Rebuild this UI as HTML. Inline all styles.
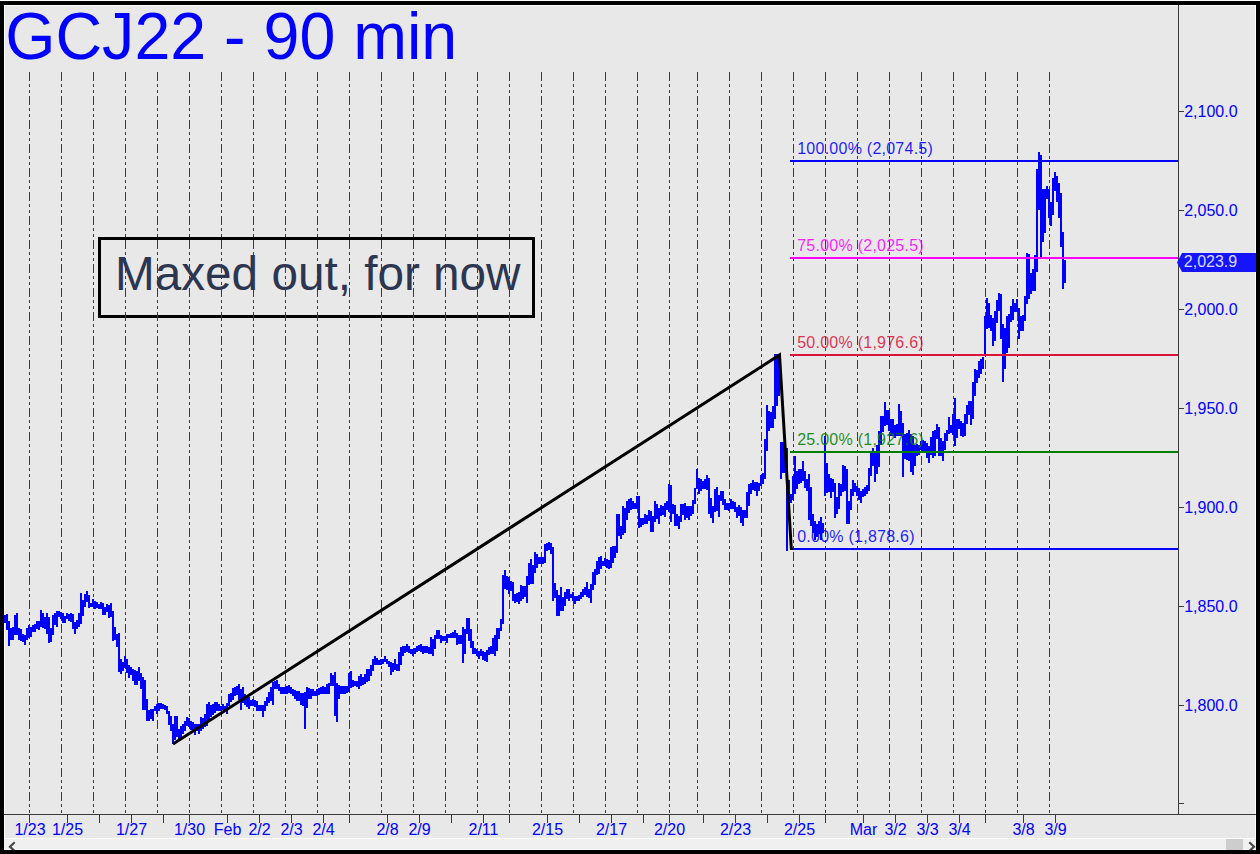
<!DOCTYPE html>
<html lang="en"><head><meta charset="utf-8"><title>GCJ22 - 90 min</title>
<style>
html,body{margin:0;padding:0;background:#e8e8e8;}
body{width:1260px;height:854px;overflow:hidden;font-family:"Liberation Sans", sans-serif;}
svg{display:block;position:absolute;left:0;top:0;}
text{font-family:"Liberation Sans", sans-serif;}
.ax{font-size:16px;fill:#0000ff;}
.fib{font-size:16px;letter-spacing:0.25px;}
</style></head><body>
<svg width="1260" height="854" viewBox="0 0 1260 854">
<rect x="0" y="0" width="1260" height="854" fill="#e8e8e8"/>
<g shape-rendering="crispEdges">
<rect x="4" y="5" width="1" height="845" fill="#ffffff" fill-opacity="0.9"/>
<rect x="1255" y="5" width="1" height="809" fill="#ffffff" fill-opacity="0.9"/>
<rect x="1255" y="815" width="1" height="35" fill="#ffffff" fill-opacity="0.9"/>
<rect x="4" y="5" width="1252" height="1" fill="#ffffff" fill-opacity="0.9"/>
</g>
<rect x="99.5" y="238.5" width="434" height="78" fill="none" stroke="#000" stroke-width="3" shape-rendering="crispEdges"/>
<text x="115.0" y="290" font-size="47.7" fill="#2c3650">Maxed out, for now</text>
<g stroke="#3a3a3a" stroke-width="1" stroke-dasharray="9 3 3 3 3 3" shape-rendering="crispEdges">
<line x1="29.5" y1="72" x2="29.5" y2="814"/>
<line x1="61.5" y1="72" x2="61.5" y2="814"/>
<line x1="93.5" y1="72" x2="93.5" y2="814"/>
<line x1="125.5" y1="72" x2="125.5" y2="814"/>
<line x1="157.5" y1="72" x2="157.5" y2="814"/>
<line x1="189.5" y1="72" x2="189.5" y2="814"/>
<line x1="221.5" y1="72" x2="221.5" y2="814"/>
<line x1="253.5" y1="72" x2="253.5" y2="814"/>
<line x1="285.5" y1="72" x2="285.5" y2="814"/>
<line x1="317.5" y1="72" x2="317.5" y2="814"/>
<line x1="349.5" y1="72" x2="349.5" y2="814"/>
<line x1="381.5" y1="72" x2="381.5" y2="814"/>
<line x1="413.5" y1="72" x2="413.5" y2="814"/>
<line x1="445.5" y1="72" x2="445.5" y2="814"/>
<line x1="477.5" y1="72" x2="477.5" y2="814"/>
<line x1="509.5" y1="72" x2="509.5" y2="814"/>
<line x1="541.5" y1="72" x2="541.5" y2="814"/>
<line x1="573.5" y1="72" x2="573.5" y2="814"/>
<line x1="605.5" y1="72" x2="605.5" y2="814"/>
<line x1="637.5" y1="72" x2="637.5" y2="814"/>
<line x1="669.5" y1="72" x2="669.5" y2="814"/>
<line x1="697.5" y1="72" x2="697.5" y2="814"/>
<line x1="729.5" y1="72" x2="729.5" y2="814"/>
<line x1="761.5" y1="72" x2="761.5" y2="814"/>
<line x1="793.5" y1="72" x2="793.5" y2="814"/>
<line x1="825.5" y1="72" x2="825.5" y2="814"/>
<line x1="857.5" y1="72" x2="857.5" y2="814"/>
<line x1="889.5" y1="72" x2="889.5" y2="814"/>
<line x1="921.5" y1="72" x2="921.5" y2="814"/>
<line x1="953.5" y1="72" x2="953.5" y2="814"/>
<line x1="985.5" y1="72" x2="985.5" y2="814"/>
<line x1="1017.5" y1="72" x2="1017.5" y2="814"/>
<line x1="1049.5" y1="72" x2="1049.5" y2="814"/>
</g>
<text transform="translate(5.3 59.3) scale(1 1.02)" font-size="64.55" fill="#0000ff">GCJ22 - 90 min</text>
<path fill="#0000ff" shape-rendering="crispEdges" d="M4 615v8h2v-8zM6 614v16h2v-16zM8 621v25h2v-25zM10 628v12h2v-12zM12 627v13h2v-13zM14 615v20h2v-20zM16 613v22h2v-22zM18 628v12h2v-12zM20 629v12h2v-12zM22 634v8h2v-8zM24 635v10h2v-10zM26 628v12h2v-12zM28 625v13h2v-13zM30 627v10h2v-10zM32 625v7h2v-7zM34 624v8h2v-8zM36 621v8h2v-8zM38 621v9h2v-9zM40 610v17h2v-17zM42 613v15h2v-15zM44 617v12h2v-12zM46 613v21h2v-21zM48 617v26h2v-26zM50 628v14h2v-14zM52 615v20h2v-20zM54 613v12h2v-12zM56 611v16h2v-16zM58 611v6h2v-6zM60 612v7h2v-7zM62 613v10h2v-10zM64 616v7h2v-7zM66 613v6h2v-6zM68 614v7h2v-7zM70 613v9h2v-9zM72 614v15h2v-15zM74 622v12h2v-12zM76 620v9h2v-9zM78 613v14h2v-14zM80 593v31h2v-31zM82 600v16h2v-16zM84 594v13h2v-13zM86 591v11h2v-11zM88 595v13h2v-13zM90 603v4h2v-4zM92 599v8h2v-8zM94 601v8h2v-8zM96 602v6h2v-6zM98 604v5h2v-5zM100 602v7h2v-7zM102 603v12h2v-12zM104 607v8h2v-8zM106 604v8h2v-8zM108 605v13h2v-13zM110 603v14h2v-14zM112 611v30h2v-30zM114 627v13h2v-13zM116 634v13h2v-13zM118 633v39h2v-39zM120 659v15h2v-15zM122 662v9h2v-9zM124 656v12h2v-12zM126 659v14h2v-14zM128 665v13h2v-13zM130 667v8h2v-8zM132 669v12h2v-12zM134 670v15h2v-15zM136 671v14h2v-14zM138 667v14h2v-14zM140 673v16h2v-16zM142 677v33h2v-33zM144 680v30h2v-30zM146 699v22h2v-22zM148 710v11h2v-11zM150 709v10h2v-10zM152 709v12h2v-12zM154 706v5h2v-5zM156 704v10h2v-10zM158 703v8h2v-8zM160 703v6h2v-6zM162 704v5h2v-5zM164 705v5h2v-5zM166 706v8h2v-8zM168 711v14h2v-14zM170 716v15h2v-15zM172 724v20h2v-20zM174 716v24h2v-24zM176 716v21h2v-21zM178 729v11h2v-11zM180 726v13h2v-13zM182 724v10h2v-10zM184 721v10h2v-10zM186 717v9h2v-9zM188 718v9h2v-9zM190 721v9h2v-9zM192 722v9h2v-9zM194 724v11h2v-11zM196 724v7h2v-7zM198 724v10h2v-10zM200 717v14h2v-14zM202 718v11h2v-11zM204 714v13h2v-13zM206 704v22h2v-22zM208 702v18h2v-18zM210 705v12h2v-12zM212 704v11h2v-11zM214 702v11h2v-11zM216 702v9h2v-9zM218 704v7h2v-7zM220 706v5h2v-5zM222 704v6h2v-6zM224 706v5h2v-5zM226 703v11h2v-11zM228 694v12h2v-12zM230 693v9h2v-9zM232 688v12h2v-12zM234 687v9h2v-9zM236 686v9h2v-9zM238 684v16h2v-16zM240 689v21h2v-21zM242 687v16h2v-16zM244 694v11h2v-11zM246 697v10h2v-10zM248 697v12h2v-12zM250 700v6h2v-6zM252 699v7h2v-7zM254 700v7h2v-7zM256 701v10h2v-10zM258 705v6h2v-6zM260 705v6h2v-6zM262 705v12h2v-12zM264 701v10h2v-10zM266 697v9h2v-9zM268 692v11h2v-11zM270 687v14h2v-14zM272 682v23h2v-23zM274 681v8h2v-8zM276 680v9h2v-9zM278 684v7h2v-7zM280 687v7h2v-7zM282 687v7h2v-7zM284 687v7h2v-7zM286 686v8h2v-8zM288 685v8h2v-8zM290 687v7h2v-7zM292 689v7h2v-7zM294 690v9h2v-9zM296 691v10h2v-10zM298 691v10h2v-10zM300 693v12h2v-12zM302 693v13h2v-13zM304 692v37h2v-37zM306 687v21h2v-21zM308 688v11h2v-11zM310 689v10h2v-10zM312 689v7h2v-7zM314 691v5h2v-5zM316 689v7h2v-7zM318 688v7h2v-7zM320 687v7h2v-7zM322 686v8h2v-8zM324 687v7h2v-7zM326 684v10h2v-10zM328 683v11h2v-11zM330 673v13h2v-13zM332 675v11h2v-11zM334 672v44h2v-44zM336 683v39h2v-39zM338 685v14h2v-14zM340 686v8h2v-8zM342 686v8h2v-8zM344 686v8h2v-8zM346 686v7h2v-7zM348 673v19h2v-19zM350 671v17h2v-17zM352 680v7h2v-7zM354 681v5h2v-5zM356 681v6h2v-6zM358 676v13h2v-13zM360 674v12h2v-12zM362 677v8h2v-8zM364 674v10h2v-10zM366 669v13h2v-13zM368 669v12h2v-12zM370 665v11h2v-11zM372 659v12h2v-12zM374 656v9h2v-9zM376 658v7h2v-7zM378 660v5h2v-5zM380 659v6h2v-6zM382 659v5h2v-5zM384 656v6h2v-6zM386 659v5h2v-5zM388 661v6h2v-6zM390 662v13h2v-13zM392 663v9h2v-9zM394 659v11h2v-11zM396 664v7h2v-7zM398 652v19h2v-19zM400 647v18h2v-18zM402 646v10h2v-10zM404 646v7h2v-7zM406 644v8h2v-8zM408 646v7h2v-7zM410 649v5h2v-5zM412 649v7h2v-7zM414 648v6h2v-6zM416 646v6h2v-6zM418 645v6h2v-6zM420 644v8h2v-8zM422 646v8h2v-8zM424 646v7h2v-7zM426 646v7h2v-7zM428 647v7h2v-7zM430 637v17h2v-17zM432 639v17h2v-17zM434 635v14h2v-14zM436 630v9h2v-9zM438 630v9h2v-9zM440 635v8h2v-8zM442 636v5h2v-5zM444 636v5h2v-5zM446 634v9h2v-9zM448 634v4h2v-4zM450 633v5h2v-5zM452 632v6h2v-6zM454 630v8h2v-8zM456 633v12h2v-12zM458 635v9h2v-9zM460 635v9h2v-9zM462 627v36h2v-36zM464 629v25h2v-25zM466 618v16h2v-16zM468 618v23h2v-23zM470 629v19h2v-19zM472 641v13h2v-13zM474 648v6h2v-6zM476 649v7h2v-7zM478 651v8h2v-8zM480 649v7h2v-7zM482 651v9h2v-9zM484 652v9h2v-9zM486 650v12h2v-12zM488 647v8h2v-8zM490 646v8h2v-8zM492 638v16h2v-16zM494 635v21h2v-21zM496 628v23h2v-23zM498 628v11h2v-11zM500 619v12h2v-12zM502 575v49h2v-49zM504 570v19h2v-19zM506 576v14h2v-14zM508 577v17h2v-17zM510 581v10h2v-10zM512 582v19h2v-19zM514 594v9h2v-9zM516 593v9h2v-9zM518 592v12h2v-12zM520 585v16h2v-16zM522 586v13h2v-13zM524 586v11h2v-11zM526 576v27h2v-27zM528 563v22h2v-22zM530 559v25h2v-25zM532 565v19h2v-19zM534 552v21h2v-21zM536 554v14h2v-14zM538 557v7h2v-7zM540 557v7h2v-7zM542 557v7h2v-7zM544 544v19h2v-19zM546 543v8h2v-8zM548 542v8h2v-8zM550 543v11h2v-11zM552 547v54h2v-54zM554 583v15h2v-15zM556 590v26h2v-26zM558 595v21h2v-21zM560 587v24h2v-24zM562 597v14h2v-14zM564 592v14h2v-14zM566 589v10h2v-10zM568 589v12h2v-12zM570 594v4h2v-4zM572 592v9h2v-9zM574 596v8h2v-8zM576 596v5h2v-5zM578 595v6h2v-6zM580 592v7h2v-7zM582 589v8h2v-8zM584 587v8h2v-8zM586 582v15h2v-15zM588 589v9h2v-9zM590 584v19h2v-19zM592 572v18h2v-18zM594 569v16h2v-16zM596 561v14h2v-14zM598 557v17h2v-17zM600 556v13h2v-13zM602 561v5h2v-5zM604 558v8h2v-8zM606 559v9h2v-9zM608 560v9h2v-9zM610 547v21h2v-21zM612 546v17h2v-17zM614 546v12h2v-12zM616 514v39h2v-39zM618 514v22h2v-22zM620 526v13h2v-13zM622 506v29h2v-29zM624 508v25h2v-25zM626 501v19h2v-19zM628 499v14h2v-14zM630 498v12h2v-12zM632 501v8h2v-8zM634 503v6h2v-6zM636 496v13h2v-13zM638 496v32h2v-32zM640 518v9h2v-9zM642 518v7h2v-7zM644 514v10h2v-10zM646 515v9h2v-9zM648 510v11h2v-11zM650 511v21h2v-21zM652 516v16h2v-16zM654 501v21h2v-21zM656 504v15h2v-15zM658 508v16h2v-16zM660 505v11h2v-11zM662 506v9h2v-9zM664 503v14h2v-14zM666 501v9h2v-9zM668 484v28h2v-28zM670 485v37h2v-37zM672 504v10h2v-10zM674 505v21h2v-21zM676 514v12h2v-12zM678 516v13h2v-13zM680 504v18h2v-18zM682 504v11h2v-11zM684 503v17h2v-17zM686 506v12h2v-12zM688 506v14h2v-14zM690 506v10h2v-10zM692 500v14h2v-14zM694 488v16h2v-16zM696 469v20h2v-20zM698 478v16h2v-16zM700 479v12h2v-12zM702 481v8h2v-8zM704 479v10h2v-10zM706 475v15h2v-15zM708 478v36h2v-36zM710 498v20h2v-20zM712 506v17h2v-17zM714 489v23h2v-23zM716 487v24h2v-24zM718 495v22h2v-22zM720 491v10h2v-10zM722 491v14h2v-14zM724 499v11h2v-11zM726 503v7h2v-7zM728 503v8h2v-8zM730 499v10h2v-10zM732 501v8h2v-8zM734 502v10h2v-10zM736 507v11h2v-11zM738 505v11h2v-11zM740 507v16h2v-16zM742 510v16h2v-16zM744 510v8h2v-8zM746 492v26h2v-26zM748 484v22h2v-22zM750 483v11h2v-11zM752 480v10h2v-10zM754 482v9h2v-9zM756 482v14h2v-14zM758 483v8h2v-8zM760 475v11h2v-11zM762 473v11h2v-11zM764 439v40h2v-40zM766 405v46h2v-46zM768 411v20h2v-20zM770 412v16h2v-16zM772 406v22h2v-22zM774 354v65h2v-65zM776 354v52h2v-52zM778 356v40h2v-40zM780 442v37h2v-37zM782 442v31h2v-31zM784 442v31h2v-31zM786 448v103h2v-103zM788 480v25h2v-25zM790 494v9h2v-9zM792 476v24h2v-24zM794 456v38h2v-38zM796 471v18h2v-18zM798 469v15h2v-15zM800 469v14h2v-14zM802 461v20h2v-20zM804 471v17h2v-17zM806 479v12h2v-12zM808 474v46h2v-46zM810 487v39h2v-39zM812 514v19h2v-19zM814 521v19h2v-19zM816 524v13h2v-13zM818 521v13h2v-13zM820 517v23h2v-23zM822 523v10h2v-10zM824 436v60h2v-60zM826 463v30h2v-30zM828 474v18h2v-18zM830 478v20h2v-20zM832 479v13h2v-13zM834 483v35h2v-35zM836 497v17h2v-17zM838 483v26h2v-26zM840 484v12h2v-12zM842 465v27h2v-27zM844 466v25h2v-25zM846 469v55h2v-55zM848 501v23h2v-23zM850 489v21h2v-21zM852 480v16h2v-16zM854 483v9h2v-9zM856 486v10h2v-10zM858 488v12h2v-12zM860 491v12h2v-12zM862 489v8h2v-8zM864 487v9h2v-9zM866 485v9h2v-9zM868 468v23h2v-23zM870 453v23h2v-23zM872 448v18h2v-18zM874 451v31h2v-31zM876 445v29h2v-29zM878 431v36h2v-36zM880 416v29h2v-29zM882 416v16h2v-16zM884 402v24h2v-24zM886 410v15h2v-15zM888 410v21h2v-21zM890 419v17h2v-17zM892 419v17h2v-17zM894 425v13h2v-13zM896 424v12h2v-12zM898 404v32h2v-32zM900 411v25h2v-25zM902 423v54h2v-54zM904 434v25h2v-25zM906 433v27h2v-27zM908 430v31h2v-31zM910 434v38h2v-38zM912 436v39h2v-39zM914 445v21h2v-21zM916 444v12h2v-12zM918 445v10h2v-10zM920 441v9h2v-9zM922 440v12h2v-12zM924 441v12h2v-12zM926 443v15h2v-15zM928 446v17h2v-17zM930 437v18h2v-18zM932 431v27h2v-27zM934 430v26h2v-26zM936 424v15h2v-15zM938 427v29h2v-29zM940 438v18h2v-18zM942 441v20h2v-20zM944 433v17h2v-17zM946 430v11h2v-11zM948 417v17h2v-17zM950 425v8h2v-8zM952 414v21h2v-21zM954 398v48h2v-48zM956 419v19h2v-19zM958 419v10h2v-10zM960 421v15h2v-15zM962 423v14h2v-14zM964 414v22h2v-22zM966 405v19h2v-19zM968 401v14h2v-14zM970 401v24h2v-24zM972 382v37h2v-37zM974 369v27h2v-27zM976 370v13h2v-13zM978 361v17h2v-17zM980 359v15h2v-15zM982 357v12h2v-12zM984 316v39h2v-39zM986 298v31h2v-31zM988 303v25h2v-25zM990 315v16h2v-16zM992 318v28h2v-28zM994 311v30h2v-30zM996 300v23h2v-23zM998 293v18h2v-18zM1000 294v45h2v-45zM1002 324v58h2v-58zM1004 328v41h2v-41zM1006 316v37h2v-37zM1008 314v34h2v-34zM1010 306v16h2v-16zM1012 299v21h2v-21zM1014 303v9h2v-9zM1016 299v13h2v-13zM1018 308v31h2v-31zM1020 316v15h2v-15zM1022 315v16h2v-16zM1024 296v25h2v-25zM1026 253v51h2v-51zM1028 254v45h2v-45zM1030 273v21h2v-21zM1032 269v22h2v-22zM1034 255v36h2v-36zM1036 169v103h2v-103zM1038 152v58h2v-58zM1040 155v102h2v-102zM1042 189v53h2v-53zM1044 189v44h2v-44zM1046 186v13h2v-13zM1048 189v29h2v-29zM1050 202v24h2v-24zM1052 178v37h2v-37zM1054 172v19h2v-19zM1056 176v26h2v-26zM1058 183v35h2v-35zM1060 193v54h2v-54zM1062 232v57h2v-57zM1064 260v23h2v-23z"/>
<rect x="790" y="160" width="388" height="2" fill="#0000ff" shape-rendering="crispEdges"/>
<rect x="790" y="257" width="388" height="2" fill="#ff00ff" shape-rendering="crispEdges"/>
<rect x="790" y="354" width="388" height="2" fill="#dc143c" shape-rendering="crispEdges"/>
<rect x="790" y="451" width="388" height="2" fill="#008000" shape-rendering="crispEdges"/>
<rect x="790" y="548" width="388" height="2" fill="#0000ff" shape-rendering="crispEdges"/>
<text class="fib" x="797.2" y="154" fill="#0000ff" fill-opacity="0.88">100.00% (2,074.5)</text>
<text class="fib" x="797.2" y="251" fill="#ff00ff" fill-opacity="0.88">75.00% (2,025.5)</text>
<text class="fib" x="797.2" y="348" fill="#dc143c" fill-opacity="0.88">50.00% (1,976.6)</text>
<text class="fib" x="797.2" y="445" fill="#008000" fill-opacity="0.88">25.00% (1,927.6)</text>
<text class="fib" x="797.2" y="542" fill="#0000ff" fill-opacity="0.88">0.00% (1,878.6)</text>
<polyline points="173,744 779.5,355 791.4,550" fill="none" stroke="#000" stroke-width="3" stroke-linejoin="miter" stroke-miterlimit="10"/>
<g fill="#3a3a3a" shape-rendering="crispEdges">
<rect x="1178" y="5" width="1" height="810"/>
<rect x="4" y="814" width="1252" height="1"/>
<rect x="1179" y="111" width="5" height="1"/>
<rect x="1179" y="210" width="5" height="1"/>
<rect x="1179" y="309" width="5" height="1"/>
<rect x="1179" y="408" width="5" height="1"/>
<rect x="1179" y="507" width="5" height="1"/>
<rect x="1179" y="606" width="5" height="1"/>
<rect x="1179" y="705" width="5" height="1"/>
<rect x="1179" y="803" width="5" height="1"/>
<rect x="29" y="815" width="1" height="8"/>
<rect x="67" y="815" width="1" height="8"/>
<rect x="99" y="815" width="1" height="8"/>
<rect x="131" y="815" width="1" height="8"/>
<rect x="163" y="815" width="1" height="8"/>
<rect x="189" y="815" width="1" height="8"/>
<rect x="227" y="815" width="1" height="8"/>
<rect x="259" y="815" width="1" height="8"/>
<rect x="291" y="815" width="1" height="8"/>
<rect x="323" y="815" width="1" height="8"/>
<rect x="349" y="815" width="1" height="8"/>
<rect x="387" y="815" width="1" height="8"/>
<rect x="419" y="815" width="1" height="8"/>
<rect x="451" y="815" width="1" height="8"/>
<rect x="483" y="815" width="1" height="8"/>
<rect x="509" y="815" width="1" height="8"/>
<rect x="547" y="815" width="1" height="8"/>
<rect x="579" y="815" width="1" height="8"/>
<rect x="611" y="815" width="1" height="8"/>
<rect x="643" y="815" width="1" height="8"/>
<rect x="669" y="815" width="1" height="8"/>
<rect x="703" y="815" width="1" height="8"/>
<rect x="735" y="815" width="1" height="8"/>
<rect x="767" y="815" width="1" height="8"/>
<rect x="799" y="815" width="1" height="8"/>
<rect x="825" y="815" width="1" height="8"/>
<rect x="863" y="815" width="1" height="8"/>
<rect x="895" y="815" width="1" height="8"/>
<rect x="927" y="815" width="1" height="8"/>
<rect x="959" y="815" width="1" height="8"/>
<rect x="985" y="815" width="1" height="8"/>
<rect x="1023" y="815" width="1" height="8"/>
<rect x="1055" y="815" width="1" height="8"/>
</g>
<rect x="4" y="815" width="1252" height="1" fill="#ffffff" fill-opacity="0.0" shape-rendering="crispEdges"/>
<text class="ax" x="1184.2" y="117">2,100.0</text>
<text class="ax" x="1184.2" y="216">2,050.0</text>
<text class="ax" x="1184.2" y="315">2,000.0</text>
<text class="ax" x="1184.2" y="414">1,950.0</text>
<text class="ax" x="1184.2" y="513">1,900.0</text>
<text class="ax" x="1184.2" y="612">1,850.0</text>
<text class="ax" x="1184.2" y="711">1,800.0</text>
<text class="ax" x="30.0" y="835" text-anchor="middle">1/23</text>
<text class="ax" x="67.5" y="835" text-anchor="middle">1/25</text>
<text class="ax" x="131.5" y="835" text-anchor="middle">1/27</text>
<text class="ax" x="189.5" y="835" text-anchor="middle">1/30</text>
<text class="ax" x="227.5" y="835" text-anchor="middle">Feb</text>
<text class="ax" x="259.5" y="835" text-anchor="middle">2/2</text>
<text class="ax" x="291.5" y="835" text-anchor="middle">2/3</text>
<text class="ax" x="323.5" y="835" text-anchor="middle">2/4</text>
<text class="ax" x="387.5" y="835" text-anchor="middle">2/8</text>
<text class="ax" x="419.5" y="835" text-anchor="middle">2/9</text>
<text class="ax" x="483.5" y="835" text-anchor="middle">2/11</text>
<text class="ax" x="547.5" y="835" text-anchor="middle">2/15</text>
<text class="ax" x="611.5" y="835" text-anchor="middle">2/17</text>
<text class="ax" x="669.5" y="835" text-anchor="middle">2/20</text>
<text class="ax" x="735.5" y="835" text-anchor="middle">2/23</text>
<text class="ax" x="799.5" y="835" text-anchor="middle">2/25</text>
<text class="ax" x="863.5" y="835" text-anchor="middle">Mar</text>
<text class="ax" x="895.5" y="835" text-anchor="middle">3/2</text>
<text class="ax" x="927.5" y="835" text-anchor="middle">3/3</text>
<text class="ax" x="959.5" y="835" text-anchor="middle">3/4</text>
<text class="ax" x="1023.5" y="835" text-anchor="middle">3/8</text>
<text class="ax" x="1055.5" y="835" text-anchor="middle">3/9</text>
<g shape-rendering="crispEdges">
<rect x="4" y="838" width="1252" height="1" fill="#ffffff"/>
<rect x="4" y="839" width="1252" height="10" fill="#f0f0f0"/>
<rect x="4" y="849" width="1252" height="1" fill="#ffffff"/>
<rect x="1226" y="839" width="17" height="11" fill="#cdcdcd"/>
</g>
<path d="M14.7 842.3L10 846.7L14.7 851.1" fill="none" stroke="#484848" stroke-width="2.2"/>
<path d="M1249.3 842.3L1254 846.7L1249.3 851.1" fill="none" stroke="#484848" stroke-width="2.2"/>
<path d="M1177 262.5L1182 253H1256V272H1182Z" fill="#1414ff"/>
<text x="1183.8" y="267.3" font-size="16" fill="#ffffff" fill-opacity="0.85">2,023.9</text>
<g shape-rendering="crispEdges">
<rect x="0" y="0" width="1260" height="1" fill="#ffffff"/>
<rect x="0" y="1" width="1260" height="4" fill="#000"/>
<rect x="0" y="850" width="1260" height="4" fill="#000"/>
<rect x="0" y="1" width="4" height="853" fill="#000"/>
<rect x="1256" y="1" width="4" height="853" fill="#000"/>
</g>
</svg>
</body></html>
